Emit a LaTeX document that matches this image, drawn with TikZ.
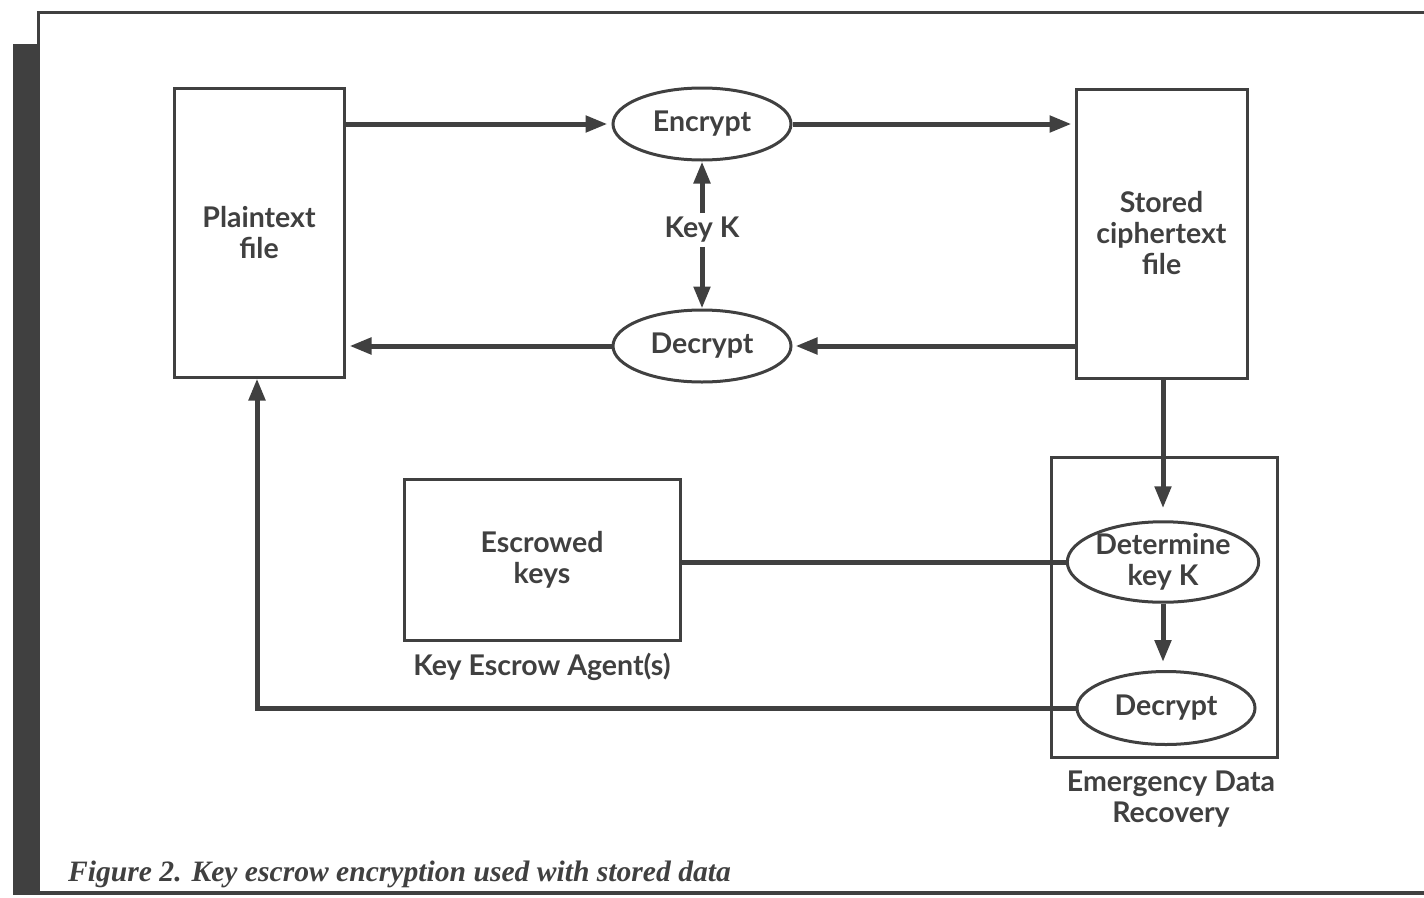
\documentclass[tikz,border=0pt]{standalone}
\usepackage{fontspec}
\setmainfont{Lato}
\newfontfamily\capfont{Liberation Serif}
\usetikzlibrary{shapes.geometric,arrows.meta,calc}
\definecolor{ink}{HTML}{404040}

\begin{document}
\begin{tikzpicture}[x=1pt, y=-1pt, line cap=butt, line join=miter,
    box/.style={draw=ink, line width=3pt, rectangle, inner sep=0pt, align=center, font=\fontsize{28.5}{31}\selectfont\bfseries, text=ink},
    oval/.style={draw=ink, line width=3pt, ellipse, inner sep=0pt, align=center, font=\fontsize{28.5}{31}\selectfont\bfseries, text=ink},
    lbl/.style={align=center, inner sep=4pt, font=\fontsize{28.5}{31}\selectfont\bfseries, text=ink},
    flow/.style={draw=ink, line width=5pt, -{Triangle[length=22pt, width=16pt]}},
    link/.style={draw=ink, line width=5pt}]
    \useasboundingbox (0,0) rectangle (1424,897);

    % --- 1. Page frame ---
    \fill[ink] (13,44) rectangle (40,893);
    \draw[ink, line width=3pt] (38.5,893) -- (38.5,12.5) -- (1424,12.5);
    \draw[ink, line width=4pt] (13,893) -- (1424,893);

    % --- 2. Files ---
    \node[box, minimum width=170, minimum height=289] (plain) at (259,232.5) {Plaintext\\file};
    \node[box, minimum width=171, minimum height=289] (stored) at (1161.5,233.5) {Stored\\ciphertext\\file};

    % --- 3. Encrypt / Decrypt with key K ---
    \node[oval, minimum width=178, minimum height=72] (enc) at (702,124) {Encrypt};
    \node[oval, minimum width=178, minimum height=72] (dec) at (702,346) {Decrypt};
    \node[lbl] (key) at (702,230) {Key K};
    \draw[flow] (key) -- (enc);
    \draw[flow] (key) -- (dec);

    \draw[flow, shorten >=4pt] (plain.east |- enc.west) -- (enc.west);
    \draw[flow, shorten >=3pt] (enc.east) -- (stored.west |- enc.east);
    \draw[flow, shorten >=3pt] (stored.west |- dec.east) -- (dec.east);
    \draw[flow, shorten >=4pt] (dec.west) -- (plain.east |- dec.west);

    % --- 4. Key escrow agent(s) ---
    \node[box, minimum width=276, minimum height=161] (esc) at (542,559.5) {Escrowed\\keys};
    \node[lbl] (agent) at (542,667) {Key Escrow Agent(s)};

    % --- 5. Emergency data recovery ---
    \node[draw=ink, line width=3pt, minimum width=226, minimum height=300, inner sep=0pt] (edr) at (1164,607) {};
    \node[oval, minimum width=186, minimum height=80] (det) at (1163,562) {Determine\\key K};
    \node[oval, minimum width=178, minimum height=73] (rec) at (1166,708) {Decrypt};
    \node[lbl] (edrlabel) at (1171,799) {Emergency Data\\Recovery};

    \draw[flow, shorten >=12pt] (stored.south -| det.north) -- (det.north);
    \draw[flow, shorten >=8pt] (det.south) -- (det.south |- rec.north);
    \draw[link] (esc.east |- det.west) -- (det.west);
    \draw[flow] (rec.west) -| ([xshift=-2pt]plain.south);

    % --- 6. Caption ---
    \node[anchor=base west, inner sep=0pt, text=ink, font=\capfont\fontsize{29.6}{34}\selectfont\bfseries\itshape] (caption) at (68,881) {Figure 2. Key escrow encryption used with stored data};
\end{tikzpicture}
\end{document}
